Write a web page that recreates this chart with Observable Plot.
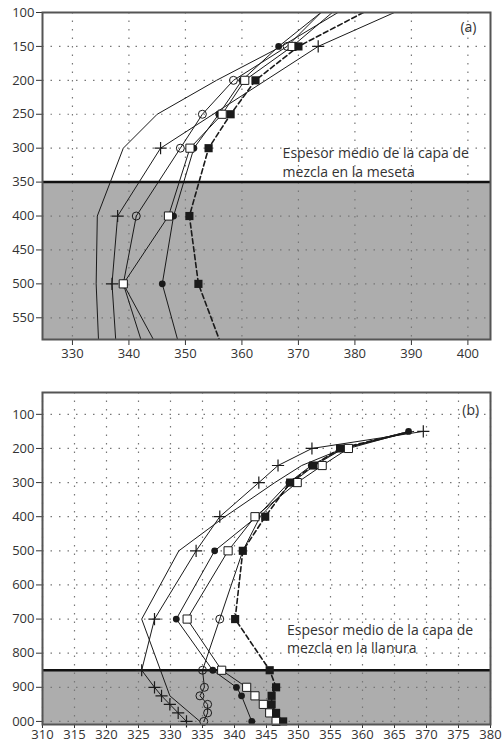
<!DOCTYPE html>
<html><head><meta charset="utf-8">
<script src="https://cdn.jsdelivr.net/npm/d3@7"></script>
<script src="https://cdn.jsdelivr.net/npm/@observablehq/plot@0.6"></script>
<style>
body{margin:0;background:#fff;}
#chart svg{display:block;}
</style>
</head><body><div id="chart"></div>
<script>
// ---------- Panel (a): meseta ----------
const levelsA = [100, 150, 200, 250, 300, 400, 500, 600];
const plainA        = [377, 367, 355.5, 345, 339, 334.4, 334.2, 334.7];
const levelsPlusA = [100, 150, 300, 400, 500, 600];
const plusA         = [387, 373.5, 345.6, 338, 337, 337.8];
const openCircleA   = [374, 368, 358.5, 353, 349.1, 341.3, 339, 342.8];
const openSquareA   = [376, 368.9, 360.5, 356.5, 350.8, 347, 339, 345.5];
const filledCircleA = [374, 366.5, 360, 355.9, 351.5, 347.9, 345.9, 349.2];
const filledSquareA = [381.5, 370, 362.4, 358, 354.1, 350.7, 352.3, 356.8];
const xTicksA = [330, 340, 350, 360, 370, 380, 390, 400];
const yTicksA = [100, 150, 200, 250, 300, 350, 400, 450, 500, 550];
const mixLayerA = 350;
const labelA = "Espesor medio de la capa de\nmezcla en la meseta";

// ---------- Panel (b): llanura ----------
const levelsPlainB = [150, 200, 250, 300, 400, 500, 700, 925, 1000];
const plainB        = [368, 357, 350.5, 346.3, 338.5, 331.3, 325.5, 329.9, 334.6];
const levelsB = [150, 200, 250, 300, 400, 500, 700, 850, 900, 925, 950, 975, 1000];
const plusB         = [369.5, 352.1, 346.8, 343.8, 337.7, 334, 327.5, 325.5, 327.5, 328.6, 329.9, 331.2, 332.5];
const openSquareB   = [367.5, 357.8, 353.7, 349.8, 343.2, 339, 332.6, 338, 341.9, 343.2, 344.5, 345.5, 346.5];
const openCircleB   = [367.5, 357, 352.5, 349, 344, 341.3, 337.7, 335, 335.3, 334.6, 335.8, 335.8, 335.2];
const filledSquareB = [367.5, 356.5, 352.3, 348.7, 344.8, 341.3, 340.1, 345.5, 346.5, 345.8, 345.8, 346.5, 347.6];
const levelsFilledCircleB = [150, 200, 250, 300, 400, 500, 700, 850, 900, 925, 1000];
const filledCircleB = [367.2, 357, 352, 348.5, 343.5, 336.9, 330.9, 336.6, 340.3, 341.1, 342.7];
const xTicksB = [310, 315, 320, 325, 330, 335, 340, 345, 350, 355, 360, 365, 370, 375, 380];
const yTicksB = [100, 200, 300, 400, 500, 600, 700, 800, 900, 1000];
const mixLayerB = 850;
const labelB = "Espesor medio de la capa de\nmezcla en la llanura";

const rows = (levels, vals) => levels.map((p, i) => ({p, v: vals[i]}));

function panel(o) {
  const ink = "#1a1a1a";
  const s = o.series;
  return Plot.plot({
    width: 502, height: o.height,
    marginLeft: 42, marginRight: 12, marginTop: o.mt, marginBottom: o.mb,
    style: {fontFamily: "'Open Sans', sans-serif", fontSize: "13px", color: "#333", background: "#fff"},
    x: {domain: o.xDom, ticks: o.xTicks, tickSize: o.tickX, tickPadding: o.padX, label: null, tickFormat: d => String(d)},
    y: {domain: o.yDom, reverse: true, ticks: o.yTicks, tickSize: 6, tickPadding: 2, label: null, tickFormat: o.yFmt},
    marks: [
      Plot.rect([o.mix], {x1: () => o.xDom[0], x2: () => o.xDom[1], y1: d => d, y2: () => o.yDom[1], fill: "#adadad"}),
      Plot.ruleX(o.xTicks, {stroke: "#777", strokeDasharray: "1.5,7", strokeWidth: 1.2}),
      Plot.ruleY(o.yTicks, {stroke: "#777", strokeDasharray: "1.5,7", strokeWidth: 1.2}),
      Plot.line(s.plain, {x: "v", y: "p", stroke: ink, strokeWidth: 1, clip: true}),
      Plot.line(s.plus, {x: "v", y: "p", stroke: ink, strokeWidth: 1, clip: true}),
      Plot.line(s.openCircle, {x: "v", y: "p", stroke: ink, strokeWidth: 1, clip: true}),
      Plot.line(s.openSquare, {x: "v", y: "p", stroke: ink, strokeWidth: 1, clip: true}),
      Plot.line(s.filledCircle, {x: "v", y: "p", stroke: ink, strokeWidth: 1, clip: true}),
      Plot.line(s.filledSquare, {x: "v", y: "p", stroke: ink, strokeWidth: 1.6, strokeDasharray: "5,3", clip: true}),
      Plot.ruleY([o.mix], {stroke: "#111", strokeWidth: 2.5}),
      Plot.dot(s.plus.filter(o.markFilter), {x: "v", y: "p", symbol: "plus", r: 4, stroke: ink, strokeWidth: 1.2}),
      Plot.dot(s.openCircle.filter(o.circleFilter), {x: "v", y: "p", symbol: "circle", r: 4, stroke: ink, fill: "none", strokeWidth: 1}),
      Plot.dot(s.filledCircle.filter(o.markFilter), {x: "v", y: "p", symbol: "circle", r: 3.4, fill: ink, stroke: "none"}),
      Plot.dot(s.openSquare.filter(o.sqFilter), {x: "v", y: "p", symbol: "square", r: 4.6, stroke: ink, fill: "#fff", strokeWidth: 1}),
      Plot.dot(s.filledSquare.filter(o.sqFilter), {x: "v", y: "p", symbol: "square", r: 4.6, fill: ink, stroke: "none"}),
      Plot.text([o.label], {x: o.labelX, y: o.labelY, text: d => d, textAnchor: "start", lineAnchor: "middle", lineHeight: 1.3, fontSize: 14, fill: "#333"}),
      Plot.text([o.tag], {x: o.tagX, y: o.tagY, text: d => d, textAnchor: "middle", fontSize: 14, fill: "#333"}),
      Plot.frame({stroke: "#555", strokeWidth: 2})
    ]
  });
}

const seriesA = {
  plain: rows(levelsA, plainA), plus: rows(levelsPlusA, plusA), openCircle: rows(levelsA, openCircleA),
  openSquare: rows(levelsA, openSquareA), filledCircle: rows(levelsA, filledCircleA), filledSquare: rows(levelsA, filledSquareA)
};
const seriesB = {
  plain: rows(levelsPlainB, plainB), plus: rows(levelsB, plusB), openCircle: rows(levelsB, openCircleB),
  openSquare: rows(levelsB, openSquareB), filledCircle: rows(levelsFilledCircleB, filledCircleB), filledSquare: rows(levelsB, filledSquareB)
};

const inA = d => d.p >= 150 && d.p <= 500;
const chartA = panel({
  height: 369, mt: 12, mb: 30, xDom: [324.7, 404], yDom: [100, 582],
  xTicks: xTicksA, yTicks: yTicksA, tickX: 6, padX: 3, yFmt: d => String(d),
  mix: mixLayerA, series: seriesA, markFilter: inA, circleFilter: inA, sqFilter: inA,
  label: labelA, labelX: 367.2, labelY: 320, tag: "(a)", tagX: 400.1, tagY: 122
});
const chartB = panel({
  height: 384, mt: 23, mb: 29, xDom: [310, 380], yDom: [36, 1009],
  xTicks: xTicksB, yTicks: yTicksB, tickX: 4, padX: 1, yFmt: d => d === 1000 ? "000" : String(d),
  mix: mixLayerB, series: seriesB, markFilter: d => true, circleFilter: d => d.p >= 700, sqFilter: d => d.p >= 200,
  label: labelB, labelX: 348.2, labelY: 755, tag: "(b)", tagX: 376.9, tagY: 88
});
const root = document.getElementById("chart");
root.appendChild(chartA);
root.appendChild(chartB);
</script></body></html>
